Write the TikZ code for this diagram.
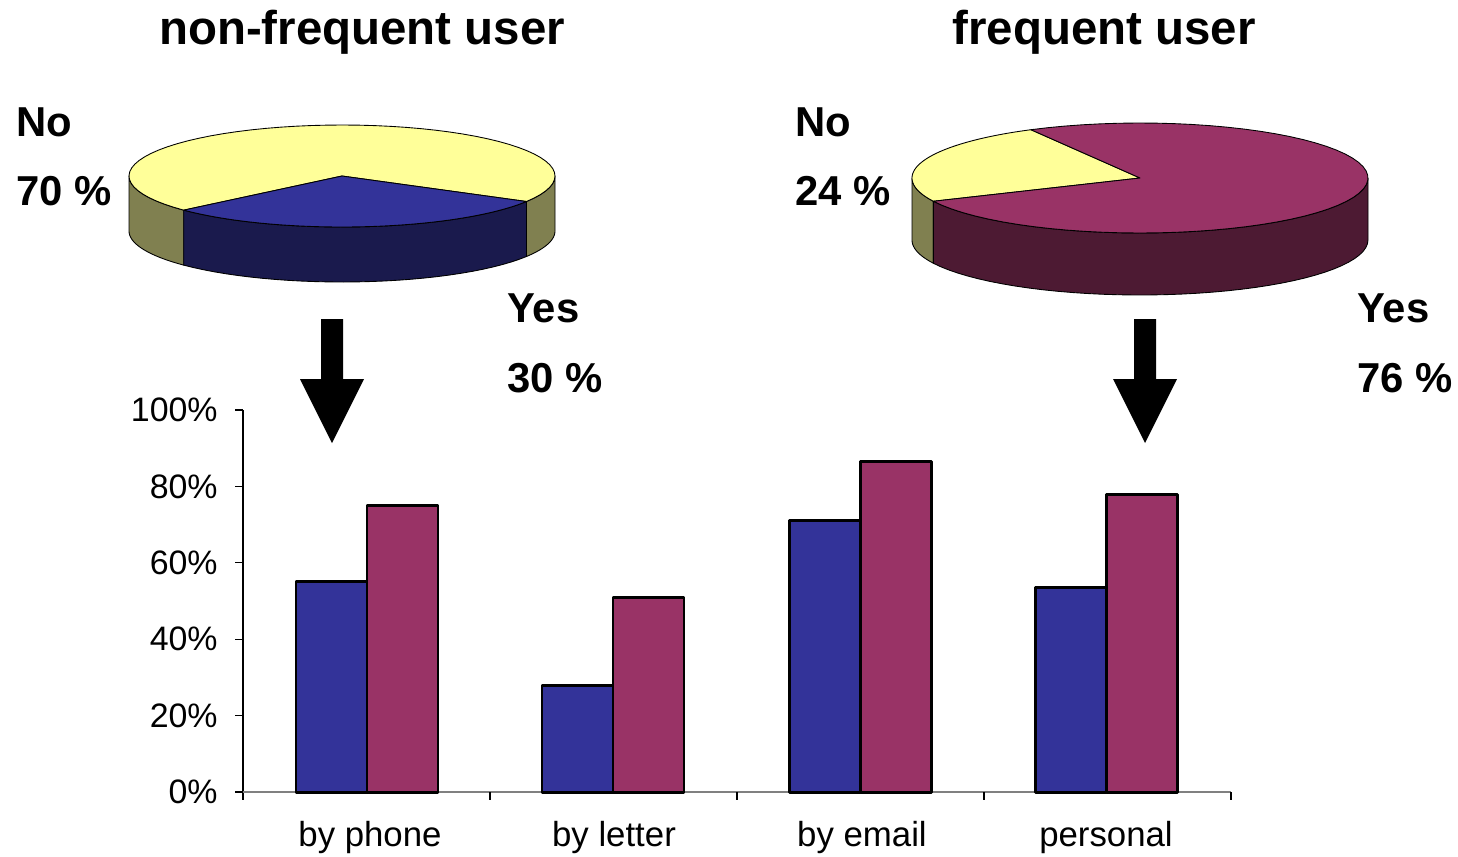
\documentclass[tikz,border=0pt]{standalone}
\usepackage{fontspec}
\setmainfont{Liberation Sans}
\definecolor{amarillo}{RGB}{255,255,153}
\definecolor{oliva}{RGB}{128,128,80}
\definecolor{azul}{RGB}{51,51,153}
\definecolor{azuloscuro}{RGB}{26,26,77}
\definecolor{granate}{RGB}{153,51,102}
\definecolor{granateoscuro}{RGB}{77,26,51}
\begin{document}
\begin{tikzpicture}[x=0.02cm,y=-0.02cm,line join=round,
	titulo/.style={inner sep=0pt,anchor=base,font=\bfseries\fontsize{27}{30}\selectfont},
	etiqueta/.style={inner sep=0pt,anchor=base west,font=\bfseries\fontsize{23.8}{26}\selectfont},
	eje/.style={inner sep=0pt,font=\fontsize{19.3}{22}\selectfont},
	borde/.style={draw=black,line width=0.5pt},
	barra/.style={draw=black,line width=1.7pt}]
	\useasboundingbox (0,0) rectangle (1458,856);
	% titulos
	\node[titulo] (tizq) at (362,44) {non-frequent user};
	\node[titulo] (tder) at (1104,44) {frequent user};
	% tarta izquierda
	\foreach \Ini/\Fin/\Color in 
	{180/222/oliva,222/330/azuloscuro,330/360/oliva}
	{
		\filldraw[borde,fill=\Color] 
		plot[domain=\Ini:\Fin,samples=30] ({342+213*cos(\x)},{176-51*sin(\x)}) -- 
		plot[domain=\Fin:\Ini,samples=30] ({342+213*cos(\x)},{231-51*sin(\x)}) -- cycle;
	}
	\foreach \Ini/\Fin/\Color in 
	{-30/222/amarillo,222/330/azul}
	{
		\filldraw[borde,fill=\Color] 
		(342,176) -- plot[domain=\Ini:\Fin,samples=60] ({342+213*cos(\x)},{176-51*sin(\x)}) -- cycle;
	}
	% tarta derecha
	\foreach \Ini/\Fin/\Color in 
	{180/205/oliva,205/360/granateoscuro}
	{
		\filldraw[borde,fill=\Color] 
		plot[domain=\Ini:\Fin,samples=40] ({1140+228*cos(\x)},{178-55*sin(\x)}) -- 
		plot[domain=\Fin:\Ini,samples=40] ({1140+228*cos(\x)},{240-55*sin(\x)}) -- cycle;
	}
	\foreach \Ini/\Fin/\Color in 
	{118.6/205/amarillo,-155/118.6/granate}
	{
		\filldraw[borde,fill=\Color] 
		(1140,178) -- plot[domain=\Ini:\Fin,samples=60] ({1140+228*cos(\x)},{178-55*sin(\x)}) -- cycle;
	}
	% etiquetas
	\foreach \Xc/\Yc/\Nombre/\Texto in 
	{16/136/noizq/No,16/205/pcnoizq/70 \%,507/322/siizq/Yes,507/392/pcsiizq/30 \%,
	795/136/noder/No,795/205/pcnoder/24 \%,1357/322/sider/Yes,1357/392/pcsider/76 \%}
	{
		\node[etiqueta] (\Nombre) at (\Xc,\Yc) {\Texto};
	}
	% flechas
	\foreach \Xc in {332,1145}
	{
		\fill[black] (\Xc-11,319) -- (\Xc+11,319) -- (\Xc+11,379) -- (\Xc+32,379) 
		-- (\Xc,443) -- (\Xc-32,379) -- (\Xc-11,379) -- cycle;
	}
	% ejes
	\draw[line width=0.6pt] (243,410) -- (243,800);
	\draw[gray,line width=1.1pt] (235,792) -- (1231,792);
	\foreach \Yv in {0,20,...,100}
	{
		\draw[line width=0.6pt] (235,{792-3.82*\Yv}) -- (243,{792-3.82*\Yv});
		\node[eje,anchor=east] (y\Yv) at (218,{792-3.82*\Yv}) {\Yv\%};
	}
	\foreach \Xc in {490,737,984,1231}
	{
		\draw[line width=0.6pt] (\Xc,792) -- (\Xc,800);
	}
	% barras
	\foreach \Xc/\Azul/\Granate in 
	{367/55/75,613/28/51,860/71/86.5,1106/53.5/78}
	{
		\filldraw[barra,fill=azul] (\Xc-71,792) rectangle (\Xc,{792-3.82*\Azul});
		\filldraw[barra,fill=granate] (\Xc,792) rectangle (\Xc+71,{792-3.82*\Granate});
	}
	\foreach \Xc/\Nombre/\Texto in 
	{370/tel/by phone,614/carta/by letter,862/correo/by email,1106/pers/personal}
	{
		\node[eje,anchor=base,font=\fontsize{19.8}{22}\selectfont] (\Nombre) at (\Xc,846) {\Texto};
	}
\end{tikzpicture}
\end{document}
